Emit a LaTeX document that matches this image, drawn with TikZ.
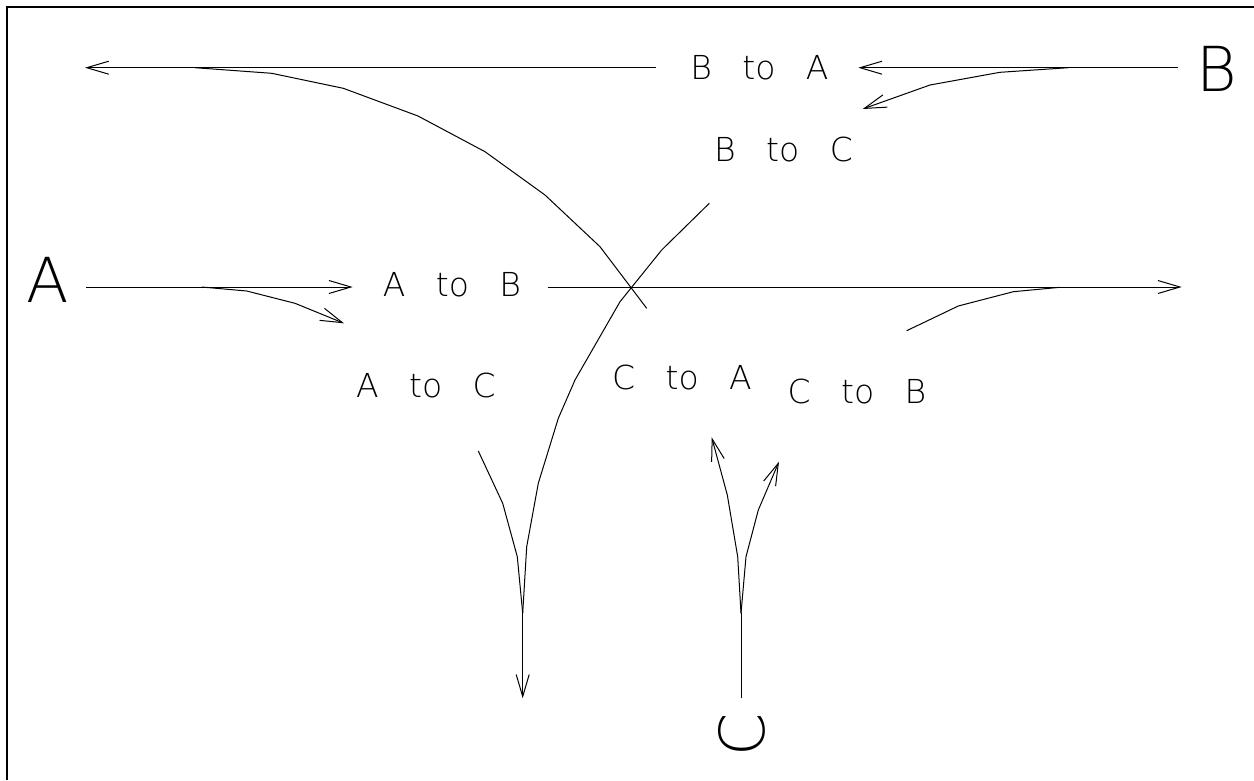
\documentclass[tikz,border=0pt]{standalone}
\usepackage{fontspec}
\newfontfamily\cadfont{DejaVu Sans ExtraLight}[WordSpace=2.9]
\usetikzlibrary{arrows.meta}
\begin{document}
\begin{tikzpicture}[x=1pt,y=-1pt,
  road/.style={draw, line width=1pt, line join=round},
  arr/.style={-{Straight Barb[length=22pt,width=13pt]}},
  lbl/.style={font=\cadfont\fontsize{33}{33}\selectfont, inner sep=0pt},
  big/.style={font=\cadfont\fontsize{62}{62}\selectfont, inner sep=0pt}]
\useasboundingbox (0,0) rectangle (1254,780);
\fill[white] (0,0) rectangle (1254,780);
\draw[line width=2.5pt] (7,780) -- (7,7) -- (1254,7);

% end nodes
\node[big] (A) at (48,280) {A};
\node[big] (B) at (1217,69) {B};
\node[big, rotate=90] (C) at (741.5,735) {C};

% labels
\node[lbl] (lBA) at (759.5,68) {B to A};
\node[lbl] (lBC) at (783.5,150) {B to C};
\node[lbl] (lAB) at (452,285) {A to B};
\node[lbl] (lAC) at (426,386) {A to C};
\node[lbl] (lCA) at (682,378) {C to A};
\node[lbl] (lCB) at (857,392) {C to B};

% coordinates: top lane
\coordinate (bs) at (1178,67.7);
\coordinate (bat) at (858.3,67.7);
\coordinate (bas) at (656,67.7);
\coordinate (aend) at (85,67.7);
% C to A curve
\coordinate (ca1) at (646.7,308.3);
\coordinate (ca2) at (600,246.7);
\coordinate (ca3) at (545,195);
\coordinate (ca4) at (485,151.7);
\coordinate (ca5) at (418,116);
\coordinate (ca6) at (343.3,88.3);
\coordinate (ca7) at (271.7,73.3);
\coordinate (ca8) at (195,67.7);
% B to C
\coordinate (bc0) at (1068.3,67.7);
\coordinate (bc1) at (1000,72.3);
\coordinate (bc2) at (930,85);
\coordinate (bc3) at (862.7,109);
\coordinate (bd1) at (709.3,203.3);
\coordinate (bd2) at (661.7,250);
\coordinate (bd3) at (620,301.7);
\coordinate (bd4) at (575,380);
\coordinate (bd5) at (558.3,418.3);
\coordinate (bd6) at (538.3,483.3);
\coordinate (bd7) at (526.7,546.7);
\coordinate (bj) at (522.7,613.3);
\coordinate (bend) at (522.7,698.3);
% A lane
\coordinate (as) at (86,287);
\coordinate (abt) at (352.7,287);
\coordinate (abs) at (547.7,287);
\coordinate (bendr) at (1181.7,287);
\coordinate (ac0) at (201.7,287);
\coordinate (ac1) at (246.7,291);
\coordinate (ac2) at (295,303.3);
\coordinate (ac3) at (344,323.3);
\coordinate (ad1) at (478.3,451);
\coordinate (ad2) at (502.7,503.3);
\coordinate (ad3) at (517.3,556.7);
% C lane
\coordinate (cs) at (741,698.3);
\coordinate (cj) at (741,613.3);
\coordinate (cl1) at (737.7,556.7);
\coordinate (cl2) at (727.3,495);
\coordinate (cl3) at (711.7,437.3);
\coordinate (cr1) at (746,556.7);
\coordinate (cr2) at (758.3,510);
\coordinate (cr3) at (779,461.7);
\coordinate (cb1) at (906.7,330.7);
\coordinate (cb2) at (958.3,306);
\coordinate (cb3) at (1013.3,291.7);
\coordinate (cb4) at (1060,287.3);

% B to A
\draw[road, arr] (bs) -- (bat);
\draw[road, arr] (bas) -- (aend);
% B to C
\draw[road, arr] (bc0) -- (bc1) -- (bc2) -- (bc3);
\draw[road] (bd1) -- (bd2) -- (bd3) -- (bd4) -- (bd5) -- (bd6) -- (bd7) -- (bj);
\draw[road, arr] (bj) -- (bend);
% A to B
\draw[road, arr] (as) -- (abt);
\draw[road, arr] (abs) -- (bendr);
% A to C
\draw[road, arr] (ac0) -- (ac1) -- (ac2) -- (ac3);
\draw[road] (ad1) -- (ad2) -- (ad3) -- (bj);
% C to A
\draw[road] (cs) -- (cj);
\draw[road, arr] (cj) -- (cl1) -- (cl2) -- (cl3);
\draw[road] (ca1) -- (ca2) -- (ca3) -- (ca4) -- (ca5) -- (ca6) -- (ca7) -- (ca8);
% C to B
\draw[road, arr] (cj) -- (cr1) -- (cr2) -- (cr3);
\draw[road] (cb1) -- (cb2) -- (cb3) -- (cb4);
\end{tikzpicture}
\end{document}
